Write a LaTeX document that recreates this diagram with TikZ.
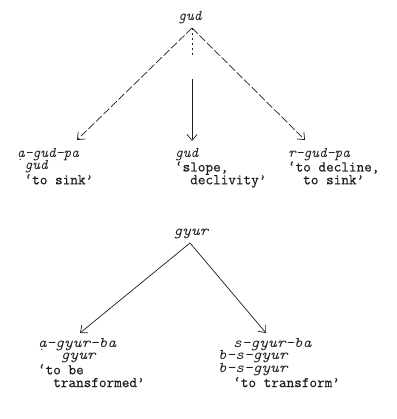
\documentclass[tikz,border=0pt]{standalone}
\usepackage{fontspec}
\setmonofont[UprightFeatures={FakeBold=0.5}]{Latin Modern Mono}
\newfontfamily\widemono[FakeStretch=1.12]{Latin Modern Mono}
\usetikzlibrary{arrows.meta}
\definecolor{ink}{RGB}{30,30,30}
\begin{document}
\begin{tikzpicture}[x=1pt,y=-1pt,
  lbl/.style={font=\ttfamily\fontsize{14.8}{12.8}\selectfont, inner sep=0pt, outer sep=0pt, text=ink, align=left},
  conn/.style={draw=ink, line width=0.7pt, -{Straight Barb[length=6pt,width=10pt]}},
  brk/.style={dash pattern=on 8pt off 2.5pt},
  midbrk/.style={dash pattern=on 2pt off 3pt on 2pt off 3pt on 2pt off 3pt on 2pt off 3pt on 2pt off 3pt on 2pt off 24pt on 60pt}]
\useasboundingbox[fill=white] (0,0) rectangle (396,419);
% upper tree
\node[lbl, anchor=base] (gud) at (190,21) {\itshape gud};
\node[lbl, anchor=north west] (a1) at (17,148) {{\itshape \d{a}–gud–pa}\\~{\itshape gud}\\~‘to sink’};
\node[lbl, anchor=north west] (a2) at (175,148) {{\itshape gud}\\‘slope,\\~~declivity’};
\node[lbl, anchor=north west] (a3) at (288,148) {{\itshape r–gud–pa}\\‘to decline,\\~~to sink’};
\coordinate (top1) at (192,28);
\coordinate (t1) at (77,140);
\coordinate (t2) at (192,141);
\coordinate (t3) at (305,140);
\draw[conn, brk] (top1) -- (t1);
\draw[conn, midbrk] (top1) -- (t2);
\draw[conn, brk] (top1) -- (t3);
% lower tree
\node[lbl, anchor=base] (gyur) at (191,235) {\widemono\itshape gyur};
\node[lbl, anchor=north west] (b1) at (38,338) {{\widemono\itshape \d{a}–gyur–ba}\\~~~{\widemono\itshape gyur}\\‘to be\\~~transformed’};
\node[lbl, anchor=north west] (b2) at (218,338) {~~{\widemono\itshape s–gyur–ba}\\{\widemono\itshape b–s–gyur}\\{\widemono\itshape b–s–gyur}\\~~‘to transform’};
\coordinate (top2) at (190,243);
\coordinate (u1) at (80,333);
\coordinate (u2) at (266,333);
\draw[conn] (top2) -- (u1);
\draw[conn] (top2) -- (u2);
\end{tikzpicture}
\end{document}
